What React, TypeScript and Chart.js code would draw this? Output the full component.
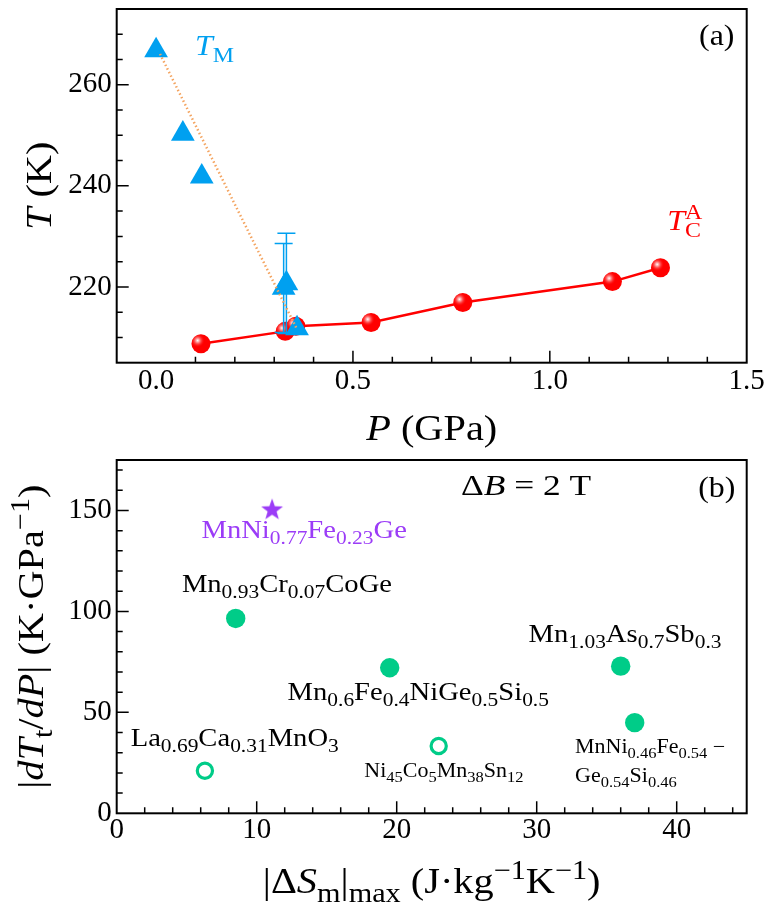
import { useEffect, useRef } from 'react';
import { Chart, registerables } from 'chart.js';

Chart.register(...registerables);

// ---------- Panel (a) data ----------
const TM_P = [0.0, 0.068, 0.116, 0.324, 0.331, 0.358];
const TM_T = [266.8, 250.3, 241.8, 219.8, 220.7, 211.8];
const TM_ERR = [0, 0, 0, 8.8, 9.9, 0];
const TC_P = [0.114, 0.328, 0.355, 0.546, 0.779, 1.159, 1.281];
const TC_T = [208.75, 211.2, 212.2, 212.95, 216.9, 221.05, 223.8];
const GUIDE_P = [0.01, 0.358];
const GUIDE_T = [266.1, 211.6];
const A_X_TICKS = [0.0, 0.5, 1.0, 1.5];
const A_Y_TICKS = [220, 240, 260];

// ---------- Panel (b) data ----------
const B_FILLED_X = [8.5, 19.5, 36.0, 37.0];
const B_FILLED_Y = [96.5, 72.1, 72.9, 44.9];
const B_OPEN_X = [6.3, 23.0];
const B_OPEN_Y = [21.1, 33.3];
const B_STAR_X = [11.1];
const B_STAR_Y = [150.5];
const B_X_TICKS = [0, 10, 20, 30, 40];
const B_Y_TICKS = [0, 50, 100, 150];
const B_NAMES = [
  'MnNi_{0.77}Fe_{0.23}Ge',
  'Mn_{0.93}Cr_{0.07}CoGe',
  'Mn_{1.03}As_{0.7}Sb_{0.3}',
  'Mn_{0.6}Fe_{0.4}NiGe_{0.5}Si_{0.5}',
  'La_{0.69}Ca_{0.31}MnO_{3}',
  'Ni_{45}Co_{5}Mn_{38}Sn_{12}',
  'MnNi_{0.46}Fe_{0.54} \u2212',
  'Ge_{0.54}Si_{0.46}',
];

const FONT = '"Liberation Serif", "Times New Roman", serif';
const BLUE = '#00a0f0';
const RED = '#ff0000';
const ORANGE = '#f4a460';
const GREEN = '#00cc88';
const PURPLE = '#9b3cf7';
const HS = 1.1; // horizontal stretch of annotation text

Chart.defaults.font.family = FONT;
Chart.defaults.color = '#000';

type Seg = { t: string; mode: 'n' | 'sub' | 'sup'; it: boolean };

function parseRich(s: string): Seg[] {
  const segs: Seg[] = [];
  let buf = '';
  let italic = false;
  const flush = () => {
    if (buf) segs.push({ t: buf, mode: 'n', it: italic });
    buf = '';
  };
  let i = 0;
  while (i < s.length) {
    const c = s[i];
    if (c === '*') {
      flush();
      italic = !italic;
      i++;
      continue;
    }
    if ((c === '_' || c === '^') && s[i + 1] === '{') {
      flush();
      const end = s.indexOf('}', i);
      segs.push({ t: s.slice(i + 2, end), mode: c === '_' ? 'sub' : 'sup', it: false });
      i = end + 1;
      continue;
    }
    buf += c;
    i++;
  }
  flush();
  return segs;
}

function drawRich(
  ctx: CanvasRenderingContext2D,
  s: string,
  x: number,
  y: number,
  size: number,
  color: string,
  align: 'left' | 'center' = 'center',
  rotate = false,
  hs = HS
) {
  const segs = parseRich(s);
  const items: { t: string; font: string; x: number; dy: number }[] = [];
  let w = 0;
  let prevMode = 'n';
  let prevStart = 0;
  let prevW = 0;
  for (const seg of segs) {
    const fs = seg.mode === 'n' ? size : size * 0.75;
    const font = `${seg.it ? 'italic ' : ''}${fs}px ${FONT}`;
    ctx.font = font;
    const sw = ctx.measureText(seg.t).width;
    let sx = w;
    if (seg.mode !== 'n' && prevMode !== 'n' && prevMode !== seg.mode) {
      sx = prevStart;
      w = prevStart + Math.max(prevW, sw);
    } else {
      w += sw;
      prevStart = sx;
      prevW = sw;
    }
    prevMode = seg.mode;
    const dy = seg.mode === 'sub' ? 0.24 * size : seg.mode === 'sup' ? -0.4 * size : 0;
    items.push({ t: seg.t, font, x: sx, dy });
  }
  ctx.save();
  ctx.translate(x, y);
  if (rotate) ctx.rotate(-Math.PI / 2);
  ctx.scale(hs, 1);
  const x0 = align === 'center' ? -w / 2 : 0;
  ctx.fillStyle = color;
  ctx.textBaseline = 'alphabetic';
  ctx.textAlign = 'left';
  for (const it of items) {
    ctx.font = it.font;
    ctx.fillText(it.t, x0 + it.x, it.dy);
  }
  ctx.restore();
}

function range(a: number, b: number, step: number) {
  const out: number[] = [];
  for (let v = a; v <= b + 1e-9; v += step) out.push(Math.round(v * 1000) / 1000);
  return out;
}

function frameTicksPlugin(xMinor: number[], xMajor: number[], yMinor: number[], yMajor: number[]) {
  return {
    id: 'frameTicks',
    afterDraw(chart: any) {
      const { ctx, chartArea: a } = chart;
      const xs = chart.scales.x;
      const ys = chart.scales.y;
      ctx.save();
      ctx.strokeStyle = '#000';
      ctx.lineWidth = 1.5;
      ctx.beginPath();
      for (const v of xMinor) {
        const p = xs.getPixelForValue(v);
        const len = xMajor.includes(v) ? 12 : 6;
        ctx.moveTo(p, a.bottom);
        ctx.lineTo(p, a.bottom - len);
      }
      for (const v of yMinor) {
        const p = ys.getPixelForValue(v);
        const len = yMajor.includes(v) ? 12 : 6;
        ctx.moveTo(a.left, p);
        ctx.lineTo(a.left + len, p);
      }
      ctx.stroke();
      ctx.lineWidth = 2;
      ctx.strokeRect(a.left, a.top, a.right - a.left, a.bottom - a.top);
      ctx.restore();
    },
  };
}

function axisOpts(min: number, max: number, values: number[], fmt: (v: number) => string, isX: boolean, size: number, pad: number) {
  return {
    type: 'linear',
    min,
    max,
    grid: { display: false, drawTicks: false },
    border: { display: false },
    afterBuildTicks: (s: any) => {
      s.ticks = values.map((v) => ({ value: v }));
    },
    afterFit: (s: any) => {
      if (isX) s.height = size;
      else s.width = size;
      s.paddingTop = 0;
      s.paddingBottom = 0;
      s.paddingLeft = 0;
      s.paddingRight = 0;
    },
    ticks: {
      autoSkip: false,
      maxRotation: 0,
      minRotation: 0,
      padding: pad,
      color: '#000',
      font: { family: FONT, size: 29, lineHeight: 1 },
      callback: (v: any) => fmt(Number(v)),
    },
  };
}

function makeStar(color: string) {
  const c = document.createElement('canvas');
  c.width = 26;
  c.height = 26;
  const g = c.getContext('2d')!;
  g.fillStyle = color;
  g.beginPath();
  const R = 11.5;
  const r = 4.7;
  for (let k = 0; k < 10; k++) {
    const ang = -Math.PI / 2 + (k * Math.PI) / 5;
    const rr = k % 2 === 0 ? R : r;
    const px = 13 + rr * Math.cos(ang);
    const py = 13.5 + rr * Math.sin(ang);
    if (k === 0) g.moveTo(px, py);
    else g.lineTo(px, py);
  }
  g.closePath();
  g.fill();
  return c;
}

function configA(): any {
  const sphereAndErr = {
    id: 'sphereErr',
    afterDatasetDraw(chart: any, args: any) {
      if (args.index !== 2) return;
      const { ctx } = chart;
      const xs = chart.scales.x;
      const ys = chart.scales.y;
      const meta = chart.getDatasetMeta(2);
      ctx.save();
      for (const el of meta.data) {
        const cx = el.x;
        const cy = el.y;
        if (!isFinite(cx) || !isFinite(cy)) continue;
        const hx = cx - 3.3;
        const hy = cy - 3.3;
        const g = ctx.createRadialGradient(hx, hy, 0, hx, hy, 7);
        g.addColorStop(0, 'rgba(255,255,255,1)');
        g.addColorStop(0.25, 'rgba(255,200,200,0.8)');
        g.addColorStop(1, 'rgba(255,0,0,0)');
        ctx.fillStyle = g;
        ctx.beginPath();
        ctx.arc(cx, cy, 9.5, 0, Math.PI * 2);
        ctx.fill();
      }
      ctx.restore();
      ctx.save();
      ctx.strokeStyle = BLUE;
      ctx.lineWidth = 1.5;
      ctx.beginPath();
      TM_P.forEach((p, i) => {
        const e = TM_ERR[i];
        if (!e) return;
        const px = xs.getPixelForValue(p);
        const yt = ys.getPixelForValue(TM_T[i] + e);
        const yb = ys.getPixelForValue(TM_T[i] - e);
        ctx.moveTo(px, yt);
        ctx.lineTo(px, yb);
        ctx.moveTo(px - 9, yt);
        ctx.lineTo(px + 9, yt);
        ctx.moveTo(px - 9, yb);
        ctx.lineTo(px + 9, yb);
      });
      ctx.stroke();
      ctx.restore();
    },
  };
  const textPlugin = {
    id: 'textA',
    afterDraw(chart: any) {
      const { ctx, chartArea: a } = chart;
      const xs = chart.scales.x;
      const ys = chart.scales.y;
      drawRich(ctx, '*T*_{M}', xs.getPixelForValue(0.099), ys.getPixelForValue(265.8), 29, BLUE, 'left');
      drawRich(ctx, '*T*_{C}^{A}', xs.getPixelForValue(1.298), ys.getPixelForValue(231.2), 29, RED, 'left');
      drawRich(ctx, '(a)', xs.getPixelForValue(1.424), ys.getPixelForValue(267.8), 29, '#000', 'center');
      drawRich(ctx, '*T* (K)', 51, (a.top + a.bottom) / 2, 36, '#000', 'center', true, 1.12);
      drawRich(ctx, '*P* (GPa)', (a.left + a.right) / 2, 440, 36, '#000', 'center', false, 1.12);
    },
  };
  return {
    type: 'scatter',
    data: {
      datasets: [
        {
          data: GUIDE_P.map((p, i) => ({ x: p, y: GUIDE_T[i] })),
          showLine: true,
          borderColor: ORANGE,
          borderWidth: 2.5,
          borderDash: [1.5, 2.5],
          pointRadius: 0,
        },
        {
          data: TM_P.map((p, i) => ({ x: p, y: TM_T[i] })),
          pointStyle: 'triangle',
          pointRadius: 13.7,
          backgroundColor: BLUE,
          borderColor: BLUE,
          pointBorderWidth: 0,
        },
        {
          data: TC_P.map((p, i) => ({ x: p, y: TC_T[i] })),
          showLine: true,
          borderColor: RED,
          borderWidth: 2.5,
          pointRadius: 9.5,
          pointBorderWidth: 0,
          backgroundColor: RED,
          pointBackgroundColor: RED,
        },
      ],
    },
    options: {
      responsive: false,
      animation: false,
      devicePixelRatio: 1,
      layout: { autoPadding: false, padding: { left: 0, top: 9, right: 28.3, bottom: 0 } },
      plugins: { legend: { display: false }, tooltip: { enabled: false } },
      scales: {
        x: axisOpts(-0.1, 1.5, A_X_TICKS, (v) => v.toFixed(1), true, 87.3, 4),
        y: axisOpts(205, 275, A_Y_TICKS, (v) => String(v), false, 116.7, 5),
      },
    },
    plugins: [
      sphereAndErr,
      frameTicksPlugin(range(0.1, 1.4, 0.1), [0.5, 1.0], range(210, 270, 5), A_Y_TICKS),
      textPlugin,
    ],
  };
}

function configB(): any {
  const star = makeStar(PURPLE);
  const labels: { i: number; x: number; y: number; size: number; color: string; align: 'left' | 'center' }[] = [
    { i: 0, x: 13.39, y: 136.6, size: 26, color: PURPLE, align: 'center' },
    { i: 1, x: 12.16, y: 109.7, size: 26, color: '#000', align: 'center' },
    { i: 2, x: 36.31, y: 84.95, size: 26, color: '#000', align: 'center' },
    { i: 3, x: 21.54, y: 56.1, size: 26, color: '#000', align: 'center' },
    { i: 4, x: 8.43, y: 33.3, size: 26, color: '#000', align: 'center' },
    { i: 5, x: 23.37, y: 18.1, size: 20, color: '#000', align: 'center' },
    { i: 6, x: 32.74, y: 30.0, size: 20, color: '#000', align: 'left' },
    { i: 7, x: 32.74, y: 15.6, size: 20, color: '#000', align: 'left' },
  ];
  const textPlugin = {
    id: 'textB',
    afterDraw(chart: any) {
      const { ctx, chartArea: a } = chart;
      const xs = chart.scales.x;
      const ys = chart.scales.y;
      for (const l of labels) {
        drawRich(ctx, B_NAMES[l.i], xs.getPixelForValue(l.x), ys.getPixelForValue(l.y), l.size, l.color, l.align);
      }
      drawRich(ctx, '\u0394*B* = 2 T', xs.getPixelForValue(29.24), ys.getPixelForValue(157.9), 30, '#000', 'center', false, 1.18);
      drawRich(ctx, '(b)', xs.getPixelForValue(42.86), ys.getPixelForValue(156.6), 29, '#000', 'center');
      drawRich(ctx, '|*dT*_{t}/*dP*| (K\u00b7GPa^{\u22121})', 43, (a.top + a.bottom) / 2, 36, '#000', 'center', true, 1.12);
      drawRich(ctx, '|\u0394*S*_{m}|_{max} (J\u00b7kg^{\u22121}K^{\u22121})', (a.left + a.right) / 2, 443, 36, '#000', 'center', false, 1.12);
    },
  };
  return {
    type: 'scatter',
    data: {
      datasets: [
        {
          data: B_STAR_X.map((x, i) => ({ x, y: B_STAR_Y[i] })),
          pointStyle: star,
        },
        {
          data: B_FILLED_X.map((x, i) => ({ x, y: B_FILLED_Y[i] })),
          pointRadius: 9.7,
          pointBorderWidth: 0,
          backgroundColor: GREEN,
          borderColor: GREEN,
        },
        {
          data: B_OPEN_X.map((x, i) => ({ x, y: B_OPEN_Y[i] })),
          pointRadius: 7.6,
          pointBorderWidth: 3.2,
          backgroundColor: 'rgba(255,255,255,0)',
          borderColor: GREEN,
        },
      ],
    },
    options: {
      responsive: false,
      animation: false,
      devicePixelRatio: 1,
      layout: { autoPadding: false, padding: { left: 0, top: 10, right: 28.3, bottom: 0 } },
      plugins: { legend: { display: false }, tooltip: { enabled: false } },
      scales: {
        x: axisOpts(0, 45, B_X_TICKS, (v) => String(v), true, 95.7, 3),
        y: axisOpts(0, 175, B_Y_TICKS, (v) => String(v), false, 116.7, 5),
      },
    },
    plugins: [
      frameTicksPlugin(range(2, 44, 2), [10, 20, 30, 40], range(10, 170, 10), [50, 100, 150]),
      textPlugin,
    ],
  };
}

export default function App() {
  const ra = useRef<HTMLCanvasElement>(null);
  const rb = useRef<HTMLCanvasElement>(null);
  useEffect(() => {
    const ca = new Chart(ra.current as HTMLCanvasElement, configA());
    const cb = new Chart(rb.current as HTMLCanvasElement, configB());
    return () => {
      ca.destroy();
      cb.destroy();
    };
  }, []);
  return (
    <div style={{ position: 'absolute', left: 0, top: 0, width: 775, height: 909, background: '#fff' }}>
      <div style={{ position: 'absolute', left: 0, top: 0, width: 775, height: 450 }}>
        <canvas ref={ra} width={775} height={450} style={{ display: 'block', width: 775, height: 450 }} />
      </div>
      <div style={{ position: 'absolute', left: 0, top: 450, width: 775, height: 459 }}>
        <canvas ref={rb} width={775} height={459} style={{ display: 'block', width: 775, height: 459 }} />
      </div>
    </div>
  );
}
